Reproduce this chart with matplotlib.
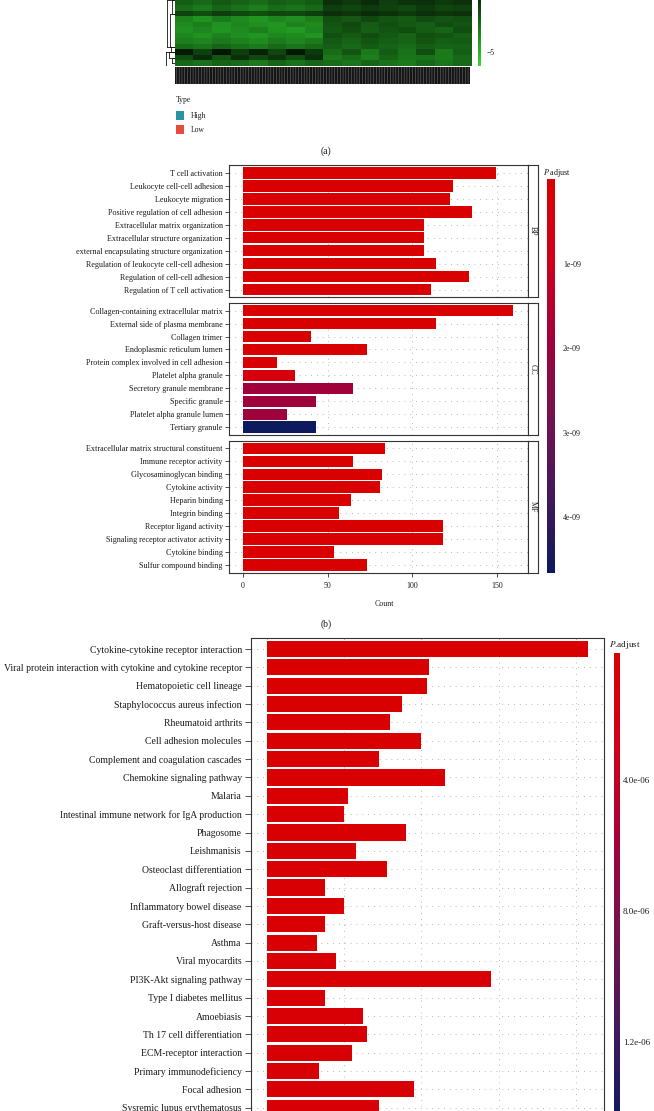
import matplotlib
matplotlib.use('Agg')
import matplotlib.pyplot as plt
import numpy as np
from matplotlib.colors import LinearSegmentedColormap, Normalize
from matplotlib.cm import ScalarMappable
from matplotlib.patches import Rectangle

plt.rcParams['font.family'] = ['Liberation Serif', 'DejaVu Serif']
plt.rcParams['mathtext.fontset'] = 'stix'
plt.rcParams['hatch.linewidth'] = 0.35

# ---- (a) heatmap, only the lower part is in the picture ----
heat_left = [
    [-2.6, -2.9, -2.4, -2.7, -3.0, -2.6, -2.8, -2.5],
    [-3.0, -3.3, -2.8, -3.1, -3.5, -3.0, -3.2, -2.9],
    [-1.8, -2.1, -1.7, -2.0, -2.2, -1.9, -2.0, -1.7],
    [-3.6, -4.0, -3.4, -3.8, -4.1, -3.7, -3.9, -3.5],
    [-3.8, -3.5, -4.0, -3.7, -3.9, -4.1, -3.6, -3.8],
    [-3.9, -3.7, -4.1, -3.8, -3.5, -4.0, -4.2, -3.7],
    [-3.7, -4.0, -3.6, -3.9, -4.1, -3.7, -3.8, -4.1],
    [-3.5, -3.7, -3.3, -3.6, -3.8, -3.4, -3.7, -3.4],
    [-3.0, -3.2, -2.8, -3.1, -3.4, -2.9, -3.2, -2.9],
    [-0.7, -1.8, -0.6, -1.7, -0.9, -1.9, -0.7, -1.6],
    [-2.1, -1.2, -2.3, -1.3, -2.0, -1.5, -2.2, -1.3],
    [-2.9, -3.1, -2.7, -3.0, -3.3, -2.8, -3.1, -2.8],
]
heat_right = [
    [-1.3, -1.6, -1.2, -1.7, -1.4, -1.3, -1.6, -1.4],
    [-1.7, -1.9, -1.6, -1.8, -2.0, -1.6, -1.9, -1.8],
    [-1.3, -1.5, -1.2, -1.4, -1.6, -1.3, -1.5, -1.4],
    [-2.2, -2.4, -2.0, -2.3, -2.5, -2.1, -2.3, -2.2],
    [-2.3, -2.0, -2.5, -2.2, -2.4, -2.6, -2.1, -2.3],
    [-2.4, -2.2, -2.6, -2.3, -2.1, -2.5, -2.8, -2.2],
    [-2.2, -2.5, -2.1, -2.4, -2.7, -2.2, -2.3, -2.6],
    [-2.4, -2.7, -2.3, -2.6, -2.8, -2.3, -2.6, -2.5],
    [-2.6, -2.9, -2.5, -2.8, -3.0, -2.6, -2.8, -2.7],
    [-3.0, -2.3, -3.3, -2.5, -3.1, -2.2, -3.4, -2.6],
    [-3.3, -3.0, -3.5, -2.8, -3.2, -3.1, -3.4, -2.9],
    [-3.0, -3.2, -2.8, -3.1, -3.4, -2.9, -3.2, -2.9],
]
dend_y1 = [0.0, 2.5, 0.0, 8.6, 9.5, 9.5, 10.5]
dend_y2 = [2.5, 8.5, 8.5, 9.5, 12.0, 10.5, 11.5]
dend_h = [0.3, 0.5, 0.8, 0.4, 0.9, 0.6, 0.3]
type_labels = ['High', 'Low']
type_colors = ['#2a93a3', '#e84a3f']

# ---- (b) GO enrichment ----
bp_terms = ['T cell activation', 'Leukocyte cell-cell adhesion', 'Leukocyte migration',
            'Positive regulation of cell adhesion', 'Extracellular matrix organization',
            'Extracellular structure organization', 'external encapsulating structure organization',
            'Regulation of leukocyte cell-cell adhesion', 'Regulation of cell-cell adhesion',
            'Regulation of T cell activation']
bp_count = [149, 124, 122, 135, 107, 107, 107, 114, 133, 111]
bp_padj = [2e-21, 5e-18, 3e-17, 8e-17, 2e-16, 2e-16, 2e-16, 6e-16, 9e-16, 1e-15]

cc_terms = ['Collagen-containing extracellular matrix', 'External side of plasma membrane',
            'Collagen trimer', 'Endoplasmic reticulum lumen', 'Protein complex involved in cell adhesion',
            'Platelet alpha granule', 'Secretory granule membrane', 'Specific granule',
            'Platelet alpha granule lumen', 'Tertiary granule']
cc_count = [159, 114, 40, 73, 20, 31, 65, 43, 26, 43]
cc_padj = [4e-19, 2e-13, 5e-12, 3e-11, 9e-11, 4e-10, 1.9e-09, 2.0e-09, 2.0e-09, 4.66e-09]

mf_terms = ['Extracellular matrix structural constituent', 'Immune receptor activity',
            'Glycosaminoglycan binding', 'Cytokine activity', 'Heparin binding', 'Integrin binding',
            'Receptor ligand activity', 'Signaling receptor activator activity', 'Cytokine binding',
            'Sulfur compound binding']
mf_count = [84, 65, 82, 81, 64, 57, 118, 118, 54, 73]
mf_padj = [3e-17, 1e-16, 4e-15, 6e-15, 2e-14, 5e-14, 8e-14, 9e-14, 3e-13, 6e-13]
go_ticks = [0, 50, 100, 150]

# ---- (c) KEGG enrichment (list continues below the picture) ----
kegg_terms = ['Cytokine-cytokine receptor interaction',
              'Viral protein interaction with cytokine and cytokine receptor',
              'Hematopoietic cell lineage', 'Staphylococcus aureus infection', 'Rheumatoid arthrits',
              'Cell adhesion molecules', 'Complement and coagulation cascades',
              'Chemokine signaling pathway', 'Malaria', 'Intestinal immune network for IgA production',
              'Phagosome', 'Leishmanisis', 'Osteoclast differentiation', 'Allograft rejection',
              'Inflammatory bowel disease', 'Graft-versus-host disease', 'Asthma', 'Viral myocardits',
              'PI3K-Akt signaling pathway', 'Type I diabetes mellitus', 'Amoebiasis',
              'Th 17 cell differentiation', 'ECM-receptor interaction', 'Primary immunodeficiency',
              'Focal adhesion', 'Sysremic lupus erythematosus']
kegg_count = [83, 42, 41.5, 35, 32, 40, 29, 46, 21, 20, 36, 23, 31, 15, 20, 15, 13, 18, 58, 15,
              25, 26, 22, 13.5, 38, 29]
kegg_padj = [1.2e-07, 1.3e-07, 1.5e-07, 1.8e-07, 2.0e-07, 2.2e-07, 2.5e-07, 2.7e-07, 3.0e-07,
             3.2e-07, 3.5e-07, 3.8e-07, 4.0e-07, 4.3e-07, 4.5e-07, 4.8e-07, 5.0e-07, 5.3e-07,
             5.5e-07, 5.8e-07, 6.0e-07, 6.3e-07, 6.5e-07, 6.8e-07, 7.0e-07, 7.3e-07]
kegg_padj_max = 1.44e-05
kegg_ticks = [0, 20, 40, 60, 80]

W, H = 654, 1111
fig = plt.figure(figsize=(W / 100, H / 100), dpi=100)


def px_axes(x0, y0, x1, y1):
    return fig.add_axes([x0 / W, 1 - y1 / H, (x1 - x0) / W, (y1 - y0) / H])


def px_text(x, y, s, **kw):
    kw.setdefault('fontsize', 5.5)
    kw.setdefault('color', '#1a1a1a')
    fig.text(x / W, 1 - y / H, s, **kw)


pal = LinearSegmentedColormap.from_list(
    'padj', [(0, '#d90000'), (0.2, '#d0001a'), (0.4, '#a3003a'), (0.6, '#74124e'),
             (0.8, '#44185a'), (1.0, '#0e1a5e')])
grid_kw = dict(color='#a0a0a0', linewidth=0.6, linestyle=(0, (1, 6)))
frame_col = '#333333'

# ---------- panel (a) ----------
heat_cmap = LinearSegmentedColormap.from_list(
    'gkr', [(0, '#31da31'), (0.5, '#000000'), (1, '#da3131')])
heat_norm = Normalize(-6, 6)
heat = np.hstack([np.array(heat_left), np.array(heat_right)])
axh = px_axes(175, 0, 472, 66)
im = axh.imshow(heat, cmap=heat_cmap, norm=heat_norm, aspect='auto', interpolation='nearest')
axh.axis('off')

axd = px_axes(165, 0, 175, 66)
for y1, y2, h in zip(dend_y1, dend_y2, dend_h):
    axd.plot([1 - h, 1 - h], [y1, y2], color='#111111', lw=0.6)
    axd.plot([1 - h, 1], [y1, y1], color='#111111', lw=0.6)
    axd.plot([1 - h, 1], [y2, y2], color='#111111', lw=0.6)
axd.set_xlim(0, 1)
axd.set_ylim(12, 0)
axd.axis('off')

axn = px_axes(175, 67, 470, 84)
axn.add_patch(Rectangle((0, 0), 1, 1, facecolor='#151515', edgecolor='#7a7a7a',
                        hatch='||||||', lw=0, transform=axn.transAxes))
axn.axis('off')

caxh = px_axes(478, 0, 481, 66)
cbh = fig.colorbar(im, cax=caxh)
cbh.outline.set_visible(False)
caxh.set_ylim(-6.0, -1.3)
cbh.set_ticks([-5], labels=['\u22125'])
caxh.tick_params(length=0, labelsize=5.5, pad=4, colors='#1a1a1a')

px_text(176, 100, 'Type', va='center')
for i, (lab, col) in enumerate(zip(type_labels, type_colors)):
    yc = 115.5 + i * 14
    fig.add_artist(Rectangle((176 / W, 1 - (yc + 4) / H), 8 / W, 8 / H,
                             facecolor=col, edgecolor='none', transform=fig.transFigure))
    px_text(191, yc, lab, va='center')
px_text(326, 151, '(a)', fontsize=7, ha='center', va='center')

# ---------- panel (b) ----------
go_norm = Normalize(min(bp_padj + cc_padj + mf_padj), max(bp_padj + cc_padj + mf_padj))
facets = [('BP', bp_terms, bp_count, bp_padj, 165.0, 297.3),
          ('CC', cc_terms, cc_count, cc_padj, 302.8, 435.1),
          ('MF', mf_terms, mf_count, mf_padj, 440.6, 573.0)]
for name, terms, counts, padj, top, bot in facets:
    ax = px_axes(229, top, 528, bot)
    y = np.arange(len(terms))
    ax.barh(y, counts, height=0.9, color=pal(go_norm(np.array(padj))), zorder=2)
    ax.set_xlim(-8, 168)
    ax.set_ylim(len(terms) - 0.4, -0.6)
    ax.set_yticks(y, terms)
    ax.set_xticks(go_ticks)
    ax.set_axisbelow(True)
    ax.grid(True, **grid_kw)
    ax.tick_params(axis='y', length=3, width=0.6, color=frame_col, pad=1.5,
                   labelsize=5.9, labelcolor='#1a1a1a')
    ax.tick_params(axis='x', length=3, width=0.6, color=frame_col, pad=3.5,
                   labelsize=5.7, labelcolor='#1a1a1a')
    if name != 'MF':
        ax.tick_params(axis='x', bottom=False, labelbottom=False)
    for sp in ax.spines.values():
        sp.set_color(frame_col)
        sp.set_linewidth(0.8)
    axs = px_axes(528, top, 538, bot)
    axs.set_xticks([])
    axs.set_yticks([])
    for sp in axs.spines.values():
        sp.set_color(frame_col)
        sp.set_linewidth(0.8)
    axs.text(0.5, 0.5, name, rotation=-90, ha='center', va='center', fontsize=5.7,
             color='#1a1a1a', transform=axs.transAxes)

px_text(384, 604, 'Count', fontsize=5.7, ha='center', va='center')

cax1 = px_axes(547, 179, 555, 573)
cb1 = fig.colorbar(ScalarMappable(go_norm, pal), cax=cax1)
cb1.outline.set_visible(False)
cax1.invert_yaxis()
cb1.set_ticks([1e-09, 2e-09, 3e-09, 4e-09], labels=['1e-09', '2e-09', '3e-09', '4e-09'])
cax1.tick_params(length=0, labelsize=5.8, pad=5.8, colors='#1a1a1a')
px_text(543, 173, r'$\it{P}$ adjust', fontsize=5.8, va='center')
px_text(326, 624, '(b)', fontsize=7, ha='center', va='center')

# ---------- panel (c) ----------
kegg_norm = Normalize(min(kegg_padj), kegg_padj_max)
axk = px_axes(250.5, 638, 604, 1180)
yk = np.arange(len(kegg_terms))
axk.barh(yk, kegg_count, height=0.88, color=pal(kegg_norm(np.array(kegg_padj))), zorder=2)
axk.set_xlim(-4.15, 87.15)
axk.set_ylim(-0.6 + (1180 - 638) / 18.35, -0.6)
axk.set_yticks(yk, kegg_terms)
axk.set_xticks(kegg_ticks)
axk.set_axisbelow(True)
axk.grid(True, **grid_kw)
axk.tick_params(axis='y', length=4.3, width=0.6, color=frame_col, pad=2,
                labelsize=7.0, labelcolor='#1a1a1a')
axk.tick_params(axis='x', bottom=False, labelbottom=False)
for sp in axk.spines.values():
    sp.set_color(frame_col)
    sp.set_linewidth(0.8)

cax2 = px_axes(614, 653, 620, 1120)
cb2 = fig.colorbar(ScalarMappable(kegg_norm, pal), cax=cax2)
cb2.outline.set_visible(False)
cax2.invert_yaxis()
cb2.set_ticks([4e-06, 8e-06, 1.2e-05], labels=['4.0e-06', '8.0e-06', '1.2e-06'])
cax2.tick_params(length=0, labelsize=6.5, pad=2.2, colors='#1a1a1a')
px_text(609, 645, r'$\it{P}$.adjust', fontsize=6.6, va='center')

fig.savefig('out.png', dpi=100)
